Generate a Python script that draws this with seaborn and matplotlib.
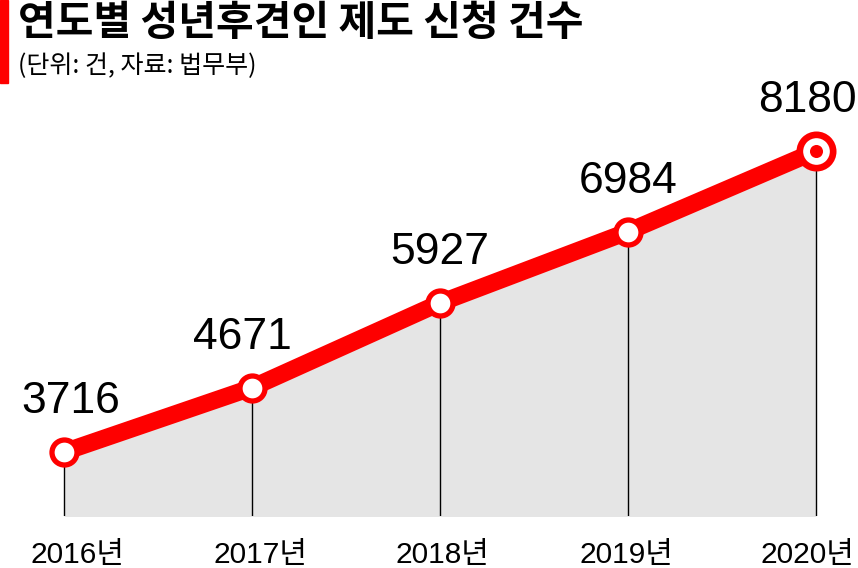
import matplotlib
matplotlib.use("Agg")
import matplotlib.pyplot as plt
import seaborn as sns
import numpy as np
import pandas as pd

years = ["2016년", "2017년", "2018년", "2019년", "2020년"]
counts = [3716, 4671, 5927, 6984, 8180]
title = "연도별 성년후견인 제도 신청 건수"
subtitle = "(단위: 건, 자료: 법무부)"

RED = "#fe0000"
FILL = "#e5e5e5"

sns.set_theme(style="white")
plt.rcParams['font.family'] = ['Liberation Sans', 'Noto Sans CJK KR']

W, H = 858, 568
fig = plt.figure(figsize=(W / 100, H / 100), dpi=100)
ax = fig.add_axes([0, 52 / H, 1, 516 / H])

df = pd.DataFrame({"x": np.arange(len(years)), "y": counts})

ax.fill_between(df["x"], df["y"], 0, color=FILL, lw=0, zorder=1)
ax.vlines(df["x"], 0, df["y"], color="black", lw=1.0, zorder=2)
sns.lineplot(data=df, x="x", y="y", ax=ax, color=RED, lw=12.5,
             solid_capstyle="round", solid_joinstyle="round", zorder=3)
ax.plot(df["x"][:-1], df["y"][:-1], "o", ms=18.0, mew=3.8, mfc="white",
        mec=RED, zorder=4, clip_on=False)
ax.plot(df["x"].iloc[-1:], df["y"].iloc[-1:], "o", ms=24.0, mew=4.8,
        mfc="white", mec=RED, zorder=4, clip_on=False)
ax.plot(df["x"].iloc[-1:], df["y"].iloc[-1:], "o", ms=9.4, mew=0,
        mfc=RED, zorder=5, clip_on=False)

# horizontal nudges (points) of value labels, as in the reference layout
label_dx = [5, -7, 0, 0, -6]
for xi, yi, dx in zip(df["x"], df["y"], label_dx):
    ax.annotate(f"{yi}", (xi, yi), xytext=(dx, 28), textcoords="offset points",
                ha="center", va="baseline", fontsize=32, color="black",
                family=['Liberation Sans'])

px = 188.0
ax.set_xlim(-64 / px, 4 + (W - 816) / px)
ax.set_ylim(2767, 10419)
ax.set_xticks(df["x"])
ax.set_xticklabels([])
ax.tick_params(axis="x", length=0)
ax.set_yticks([])
ax.set_xlabel("")
ax.set_ylabel("")
for s in ax.spines.values():
    s.set_visible(False)
ax.set_facecolor("none")

# year labels below the axis
tick_dx = [10, 6, 2, -1, -6]
for xi, lab, dx in zip(df["x"], years, tick_dx):
    ax.annotate(lab, (xi, 0), xycoords=("data", "axes fraction"),
                xytext=(dx, -34), textcoords="offset points",
                ha="center", va="baseline", fontsize=21.5, color="black",
                family=['Liberation Sans', 'Noto Sans CJK KR'])

fig.patches.append(plt.Rectangle((0, 1 - 83 / H), 8 / W, 83 / H,
                                 transform=fig.transFigure, color=RED, zorder=10))
fig.text(18 / W, 1 - 2 / H, title, ha="left", va="top", fontsize=29.5,
         fontweight="black", family=['Noto Sans CJK KR'], color="black")
fig.text(18 / W, 1 - 53 / H, subtitle, ha="left", va="top", fontsize=18,
         family=['Noto Sans CJK KR'], color="black")

fig.savefig("out.png", dpi=100)
